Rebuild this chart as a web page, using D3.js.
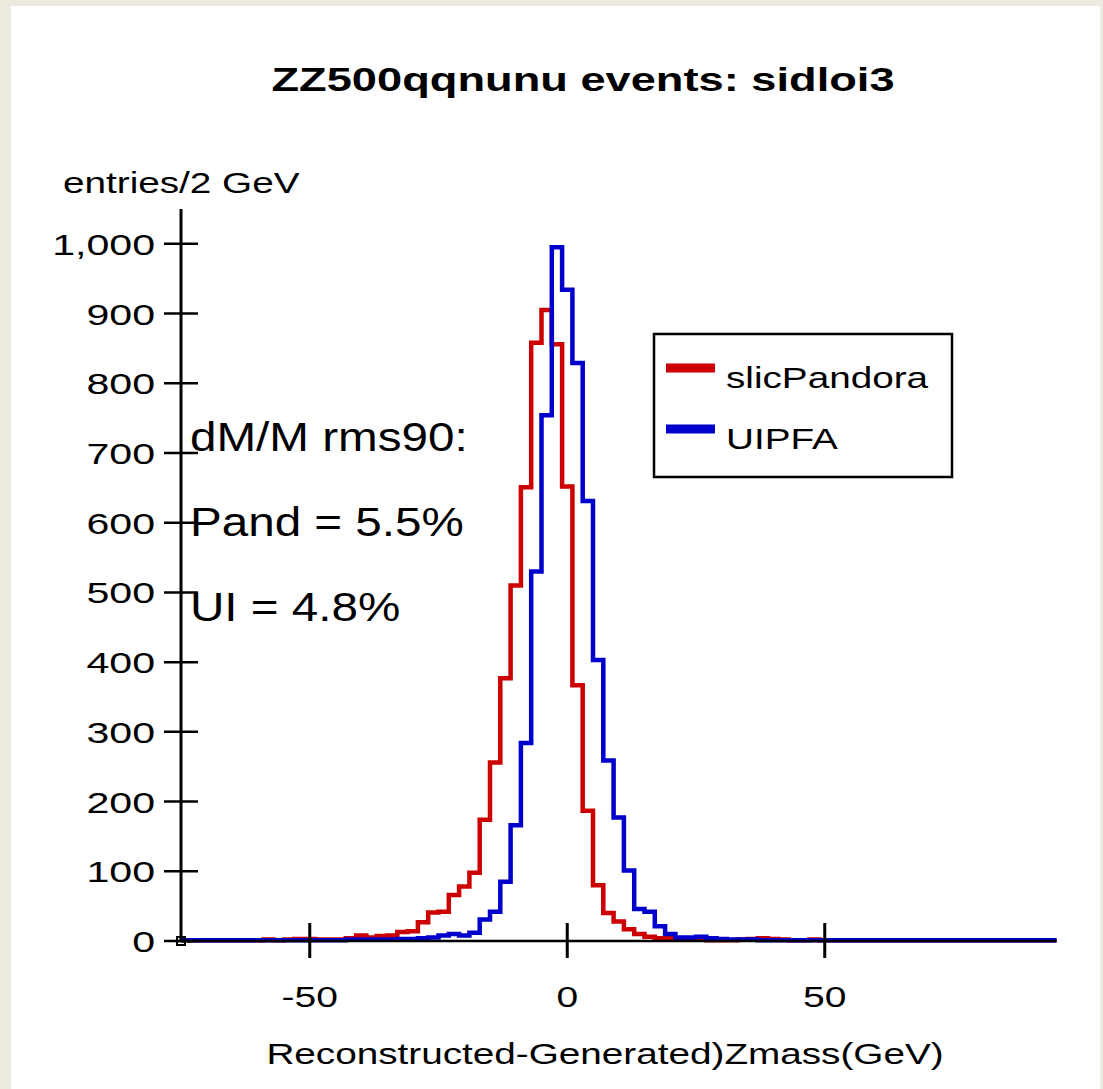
<!DOCTYPE html>
<html>
<head>
<meta charset="utf-8">
<script src="https://cdn.jsdelivr.net/npm/d3@7"></script>
<style>
  html, body { margin: 0; padding: 0; background: #edeae0; }
  svg { display: block; }
  text { font-family: "Liberation Sans", Arial, sans-serif; fill: #000; }
</style>
</head>
<body>
<svg id="chart" width="1103" height="1089"></svg>
<script>
// Histogram binning: 2 GeV wide bins, lower edges from -75 GeV
const binStart = -75;
const binWidth = 2;

// slicPandora entries per bin
const slicPandora = [
  1, 1, 1, 1, 1, 1, 1, 1, 2, 1,
  2, 3, 3, 2, 2, 2, 4, 8, 5, 7,
  8, 13, 14, 27, 41, 42, 66, 78, 98, 174,
  256, 377, 510, 651, 858, 905, 856, 652, 367, 187,
  80, 40, 28, 17, 10, 6, 4, 4, 2, 2,
  2, 1, 1, 1, 2, 3, 4, 3, 2, 1,
  1, 2, 1, 1, 1, 1, 1, 1, 1, 1,
  1, 1, 1, 1, 1, 1, 1, 1, 1, 1,
  1, 1, 1, 1, 1
];

// UIPFA entries per bin
const uipfa = [
  1, 1, 1, 1, 1, 1, 1, 1, 1, 1,
  1, 1, 1, 1, 1, 1, 2, 2, 2, 2,
  2, 3, 3, 4, 5, 8, 10, 8, 12, 31,
  42, 85, 166, 284, 530, 754, 995, 934, 829, 631,
  403, 259, 177, 101, 46, 42, 21, 10, 5, 5,
  6, 4, 3, 2, 2, 2, 1, 1, 1, 1,
  1, 1, 1, 1, 1, 1, 1, 1, 1, 1,
  1, 1, 1, 1, 1, 1, 1, 1, 1, 1,
  1, 1, 1, 1, 1
];

const xTicks = [-50, 0, 50];
const yTicks = [0, 100, 200, 300, 400, 500, 600, 700, 800, 900, 1000];

const seriesNames = ["slicPandora", "UIPFA"];
const seriesColors = ["#cc0000", "#0000cc"];

const titleText = "ZZ500qqnunu events: sidloi3";
const yLabelText = "entries/2 GeV";
const xLabelText = "Reconstructed-Generated)Zmass(GeV)";
const noteLines = ["dM/M rms90:", "Pand = 5.5%", "UI = 4.8%"];

const svg = d3.select("#chart");

// White plotting panel
svg.append("rect")
  .attr("x", 11).attr("y", 6)
  .attr("width", 1089).attr("height", 1083)
  .attr("fill", "#ffffff");

const xDomainMax = binStart + binWidth * slicPandora.length;
const x = d3.scaleLinear().domain([binStart, xDomainMax]).range([181, 1056.5]);
const y = d3.scaleLinear().domain([0, 1050]).range([941, 209]);

// Text in this plot is set in a horizontally widened face
function wideText(parent, px, py, str, size, sx, anchor, weight) {
  return parent.append("text")
    .attr("transform", `translate(${px},${py}) scale(${sx},1)`)
    .attr("font-size", size)
    .attr("font-weight", weight || "normal")
    .attr("text-anchor", anchor || "start")
    .text(str);
}

// Histogram outlines as step lines
function stepPoints(values) {
  const pts = values.map((v, i) => [binStart + i * binWidth, v]);
  pts.push([binStart + values.length * binWidth, values[values.length - 1]]);
  return pts;
}
const stepLine = d3.line()
  .x(d => x(d[0]))
  .y(d => y(d[1]))
  .curve(d3.curveStepAfter);

const histGroup = svg.append("g");
[slicPandora, uipfa].forEach((vals, k) => {
  histGroup.append("path")
    .attr("d", stepLine(stepPoints(vals)))
    .attr("fill", "none")
    .attr("stroke", seriesColors[k])
    .attr("stroke-width", 4.5)
    .attr("stroke-linejoin", "miter");
});

// Axes
const axisG = svg.append("g");
axisG.append("line")
  .attr("x1", x(binStart) - 3).attr("x2", x(xDomainMax))
  .attr("y1", y(0)).attr("y2", y(0))
  .attr("stroke", "#000").attr("stroke-width", 2.5);
axisG.append("line")
  .attr("x1", x(binStart)).attr("x2", x(binStart))
  .attr("y1", y(0)).attr("y2", y(1050))
  .attr("stroke", "#000").attr("stroke-width", 3);

// y ticks crossing the axis
yTicks.forEach(t => {
  axisG.append("line")
    .attr("x1", x(binStart) - 17).attr("x2", x(binStart) + 17)
    .attr("y1", y(t)).attr("y2", y(t))
    .attr("stroke", "#000").attr("stroke-width", 2.5);
  wideText(axisG, 155, y(t) + 11, d3.format(",")(t), 30, 1.37, "end");
});

// x ticks crossing the axis
xTicks.forEach(t => {
  axisG.append("line")
    .attr("x1", x(t)).attr("x2", x(t))
    .attr("y1", y(0) - 18).attr("y2", y(0) + 17)
    .attr("stroke", "#000").attr("stroke-width", 3);
  wideText(axisG, x(t), 1007, String(t), 30, 1.3, "middle");
});

// marker at the origin
axisG.append("rect")
  .attr("x", x(binStart) - 4).attr("y", y(0) - 4)
  .attr("width", 8).attr("height", 8)
  .attr("fill", "none").attr("stroke", "#000").attr("stroke-width", 2);

// Titles
wideText(svg, 583, 91, titleText, 34, 1.33, "middle", "bold");
wideText(svg, 63, 193, yLabelText, 30, 1.29, "start");
wideText(svg, 605, 1064, xLabelText, 30, 1.29, "middle");

// Resolution note
const noteY = [451, 536, 621];
noteLines.forEach((s, i) => {
  wideText(svg, 190, noteY[i], s, 40, 1.19, "start");
});

// Legend
const leg = svg.append("g");
leg.append("rect")
  .attr("x", 654).attr("y", 334)
  .attr("width", 298).attr("height", 143)
  .attr("fill", "#fff").attr("stroke", "#000").attr("stroke-width", 2.5);
const legY = [368, 429];
seriesNames.forEach((name, i) => {
  leg.append("line")
    .attr("x1", 666).attr("x2", 715)
    .attr("y1", legY[i]).attr("y2", legY[i])
    .attr("stroke", seriesColors[i]).attr("stroke-width", 9);
  wideText(leg, 726, legY[i] + 20, name, 30, 1.29, "start");
});
</script>
</body>
</html>
